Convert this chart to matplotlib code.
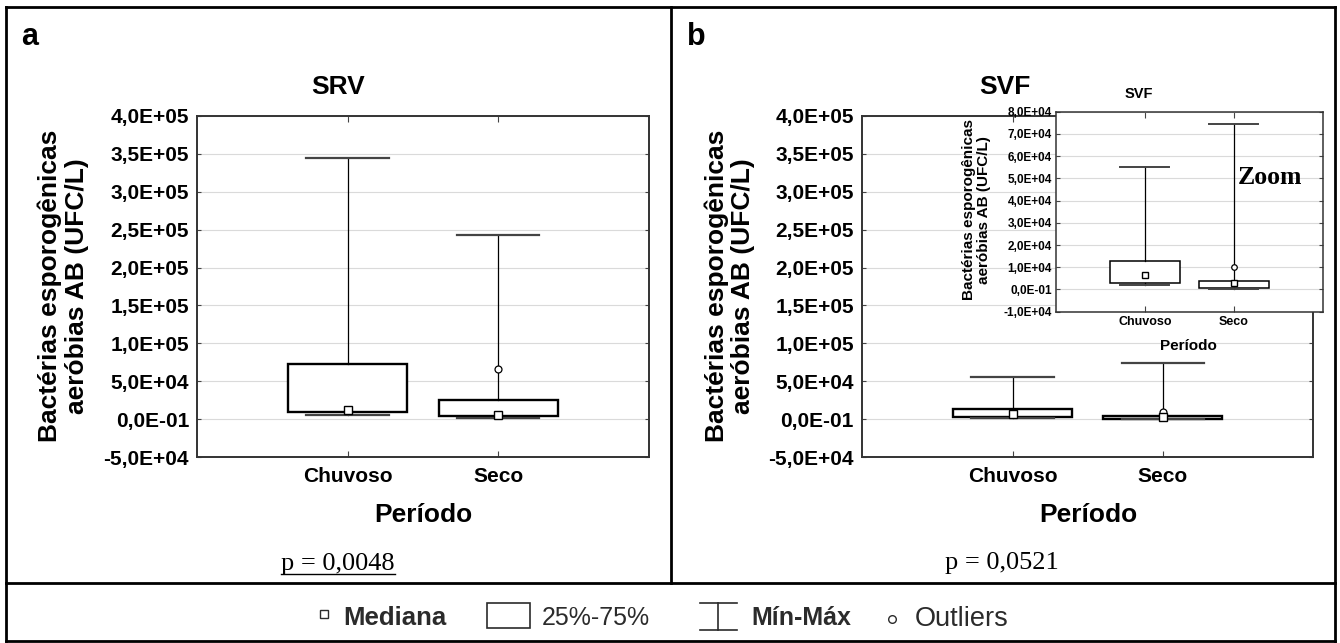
import matplotlib.pyplot as plt
from matplotlib.lines import Line2D
from matplotlib.patches import Rectangle
import numpy as np

plt.rcParams["font.family"] = ["Liberation Sans", "DejaVu Sans"]

# ---------------------------------------------------------------------------
# data
# ---------------------------------------------------------------------------
periods = ["Chuvoso", "Seco"]

# SRV (panel a)
srv_min = [6.0e3, 1.8e3]
srv_q1 = [9.3e3, 4.0e3]
srv_med = [1.15e4, 5.3e3]
srv_q3 = [7.3e4, 2.5e4]
srv_max = [3.44e5, 2.43e5]
srv_out = [[], [6.6e4]]

# SVF (panel b and zoom inset)
svf_min = [1.9e3, 2.0e2]
svf_q1 = [3.0e3, 8.0e2]
svf_med = [6.4e3, 2.8e3]
svf_q3 = [1.28e4, 3.8e3]
svf_max = [5.5e4, 7.43e4]
svf_out = [[], [1.0e4]]

main_ticks = [-5e4, 0, 5e4, 1e5, 1.5e5, 2e5, 2.5e5, 3e5, 3.5e5, 4e5]
main_ticklabels = ["-5,0E+04", "0,0E-01", "5,0E+04", "1,0E+05", "1,5E+05",
                   "2,0E+05", "2,5E+05", "3,0E+05", "3,5E+05", "4,0E+05"]
zoom_ticks = [-1e4, 0, 1e4, 2e4, 3e4, 4e4, 5e4, 6e4, 7e4, 8e4]
zoom_ticklabels = ["-1,0E+04", "0,0E-01", "1,0E+04", "2,0E+04", "3,0E+04",
                   "4,0E+04", "5,0E+04", "6,0E+04", "7,0E+04", "8,0E+04"]

p_values = ["p = 0,0048", "p = 0,0521"]
ylab = "Bactérias esporogênicas\naeróbias AB (UFC/L)"

# ---------------------------------------------------------------------------
W, H = 1340, 643
POS = [1, 2]


def fx(x):
    return x / W


def fy(y):
    return 1 - y / H


def boxes(ax, lo, q1, med, q3, hi, out, lw_box, ms_med, ms_out, lw_cap):
    stats = [dict(whislo=a, q1=b, med=c, q3=d, whishi=e, fliers=f)
             for a, b, c, d, e, f in zip(lo, q1, med, q3, hi, out)]
    ax.bxp(stats, positions=POS, widths=0.79, capwidths=0.55,
           patch_artist=True, manage_ticks=False, zorder=3,
           boxprops=dict(facecolor="white", edgecolor="black", linewidth=lw_box),
           whiskerprops=dict(color="black", linewidth=0.9),
           capprops=dict(color="#444444", linewidth=lw_cap),
           medianprops=dict(linewidth=0),
           flierprops=dict(marker="o", markerfacecolor="white",
                           markeredgecolor="black", markersize=ms_out,
                           markeredgewidth=0.9))
    ax.plot(POS, med, ls="none", marker="s", mfc="white", mec="black",
            ms=ms_med, mew=1.0, zorder=4)


def style(ax, ticks, ticklabels, ylim, ysize, xsize, ypad, xpad, spine_lw):
    ax.set_xlim(0, 3)
    ax.set_ylim(*ylim)
    ax.set_yticks(ticks)
    ax.set_yticklabels(ticklabels, fontsize=ysize, fontweight="bold")
    ax.set_xticks(POS)
    ax.set_xticklabels(periods, fontsize=xsize, fontweight="bold")
    ax.tick_params(axis="y", direction="in", length=3, width=0.8,
                   color="#444444", right=True, pad=ypad)
    ax.tick_params(axis="x", direction="in", length=4, width=0.8,
                   color="#444444", top=True, pad=xpad)
    ax.yaxis.grid(True, color="#dadada", lw=0.8)
    ax.set_axisbelow(True)
    for s in ax.spines.values():
        s.set_color("#333333")
        s.set_linewidth(spine_lw)


fig = plt.figure(figsize=(13.4, 6.43), dpi=100)

# ── panel a ────────────────────────────────────────────────────────────────
ax_a = fig.add_axes([fx(197.4), fy(457), (648.5 - 197.4) / W, 341 / H])
boxes(ax_a, srv_min, srv_q1, srv_med, srv_q3, srv_max, srv_out, 1.7, 5.5, 5, 1.6)
style(ax_a, main_ticks, main_ticklabels, (-5e4, 4e5), 15, 15, 6, 7, 1.4)

# ── panel b ────────────────────────────────────────────────────────────────
ax_b = fig.add_axes([fx(862.3), fy(457), (1313.1 - 862.3) / W, 341 / H])
boxes(ax_b, svf_min, svf_q1, svf_med, svf_q3, svf_max, svf_out, 1.7, 5.5, 5, 1.6)
style(ax_b, main_ticks, main_ticklabels, (-5e4, 4e5), 15, 15, 6, 7, 1.4)

# ── zoom inset ─────────────────────────────────────────────────────────────
ax_z = fig.add_axes([fx(1055.9), fy(311.7), (1322.5 - 1055.9) / W, 200 / H],
                    zorder=5, facecolor="white")
boxes(ax_z, svf_min, svf_q1, svf_med, svf_q3, svf_max, svf_out, 1.1, 4, 4, 1.4)
style(ax_z, zoom_ticks, zoom_ticklabels, (-1e4, 8e4), 8.5, 9, 3, 3, 1.1)

# ── texts ──────────────────────────────────────────────────────────────────
fig.text(fx(21), fy(45), "a", fontsize=22, fontweight="bold", va="baseline")
fig.text(fx(687), fy(45), "b", fontsize=22, fontweight="bold", va="baseline")

fig.text(fx(337.6), fy(87), "SRV", fontsize=19, fontweight="bold",
         ha="center", va="center")
fig.text(fx(1005.4), fy(87), "SVF", fontsize=19, fontweight="bold",
         ha="center", va="center")
fig.text(fx(1139), fy(93.5), "SVF", fontsize=10.5, fontweight="bold",
         ha="center", va="center", zorder=6)

for xc in (63, 729.8):
    fig.text(fx(xc), fy(286), ylab, fontsize=19, fontweight="bold",
             rotation=90, ha="center", va="center", multialignment="center",
             linespacing=1.15)
fig.text(fx(976.7), fy(210), ylab, fontsize=11, fontweight="bold",
         rotation=90, ha="center", va="center", multialignment="center",
         linespacing=1.1, zorder=6)

fig.text(fx(423), fy(515), "Período", fontsize=19, fontweight="bold",
         ha="center", va="center")
fig.text(fx(1087.9), fy(515), "Período", fontsize=19, fontweight="bold",
         ha="center", va="center")
fig.text(fx(1188.6), fy(345.7), "Período", fontsize=11, fontweight="bold",
         ha="center", va="center", zorder=6)

fig.text(fx(1270), fy(177), "Zoom", fontsize=18.5, fontweight="bold",
         family="Liberation Serif", ha="center", va="center", zorder=7)

p_a = fig.text(fx(338), fy(570), p_values[0], fontsize=19,
               family="Liberation Serif", ha="center", va="baseline")
fig.text(fx(1002), fy(569), p_values[1], fontsize=19,
         family="Liberation Serif", ha="center", va="baseline")

# ── table frame ────────────────────────────────────────────────────────────
frame = [((5.5, 1335), (6.7, 6.7)), ((5.5, 1335), (641, 641)),
         ((5.5, 5.5), (6.7, 641)), ((1335, 1335), (6.7, 641)),
         ((671, 671), (6.7, 583)), ((5.5, 1335), (583, 583))]
for xs, ys in frame:
    fig.add_artist(Line2D([fx(x) for x in xs], [fy(y) for y in ys],
                          color="black", lw=2, transform=fig.transFigure))

# ── legend row ─────────────────────────────────────────────────────────────
lg = "#2b2b2b"
fig.add_artist(Line2D([fx(324)], [fy(614)], marker="s", ms=5.5, mfc="white",
                      mec=lg, mew=1.0, transform=fig.transFigure))
fig.text(fx(343), fy(625), "Mediana", fontsize=18.5, fontweight="bold",
         color=lg, va="baseline")
fig.add_artist(Rectangle((fx(487.3), fy(628.3)), (530 - 487.3) / W,
                         (628.3 - 602.7) / H, facecolor="white",
                         edgecolor=lg, lw=1.2, transform=fig.transFigure))
fig.text(fx(541.5), fy(625), "25%-75%", fontsize=18, color=lg, va="baseline")
for xs, ys in [((700, 736.7), (602.7, 602.7)), ((700, 736.7), (630, 630)),
               ((718.3, 718.3), (602.7, 630))]:
    fig.add_artist(Line2D([fx(x) for x in xs], [fy(y) for y in ys],
                          color=lg, lw=1.2, transform=fig.transFigure))
fig.text(fx(751.5), fy(625), "Mín-Máx", fontsize=18, fontweight="bold",
         color=lg, va="baseline")
fig.add_artist(Line2D([fx(892.5)], [fy(619)], marker="o", ms=5.5, mfc="white",
                      mec=lg, mew=1.0, transform=fig.transFigure))
fig.text(fx(915), fy(626.5), "Outliers", fontsize=19.5, color=lg,
         va="baseline")

# underline for the significant p-value
fig.canvas.draw()
bb = p_a.get_window_extent(fig.canvas.get_renderer())
fig.add_artist(Line2D([bb.x0 / W, bb.x1 / W], [fy(574), fy(574)],
                      color="black", lw=1.0, transform=fig.transFigure))

fig.savefig("out.png", dpi=100)
